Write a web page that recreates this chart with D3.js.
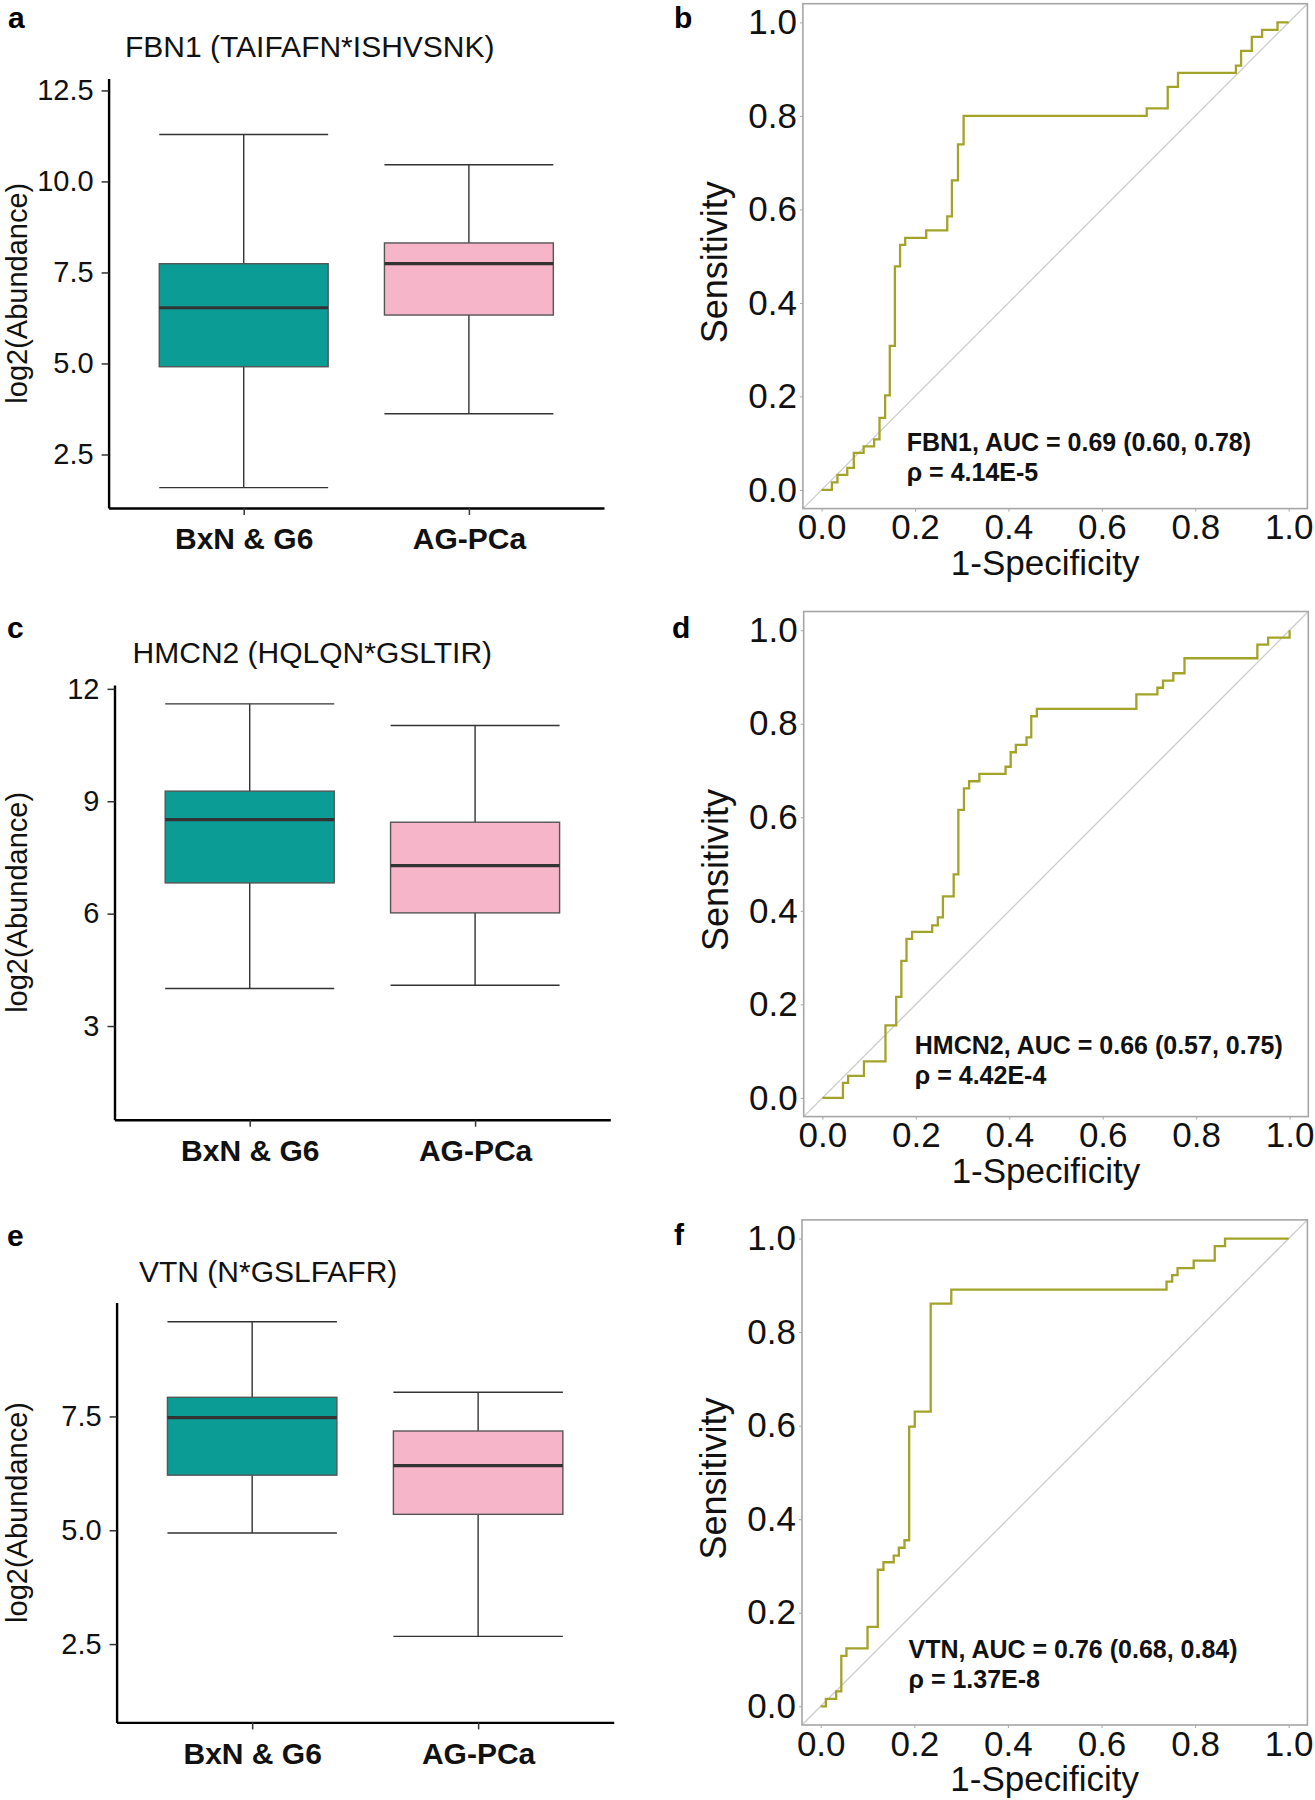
<!DOCTYPE html>
<html><head><meta charset="utf-8">
<script src="https://cdn.jsdelivr.net/npm/d3@7"></script>
<style>
body{margin:0;background:#fff;}
svg{display:block;font-family:"Liberation Sans", Arial, Helvetica, sans-serif;}
</style>
</head><body>
<svg id="chart" width="1315" height="1800"></svg>
<script>
// ---------------- DATA ----------------
const groupCategories = ["BxN & G6", "AG-PCa"];
const groupColors = ["#0b9c96", "#f7b5ca"];

// box stats: [lower whisker, Q1, median, Q3, upper whisker]
const fbn1Box = [[1.59, 4.91, 6.53, 7.74, 11.29], [3.62, 6.33, 7.74, 8.31, 10.46]];
const hmcn2Box = [[4.00, 6.82, 8.51, 9.27, 11.60], [4.09, 6.02, 7.28, 8.44, 11.02]];
const vtnBox = [[4.94, 6.21, 7.475, 7.92, 9.58], [2.67, 5.35, 6.42, 7.18, 8.03]];

const fbn1Ticks = [2.5, 5, 7.5, 10, 12.5];
const hmcn2Ticks = [3, 6, 9, 12];
const vtnTicks = [2.5, 5, 7.5];
const fbn1Domain = [1.03, 12.83];
const hmcn2Domain = [0.5, 12.1];
const vtnDomain = [0.78, 10.0];

const boxTitles = ["FBN1 (TAIFAFN*ISHVSNK)", "HMCN2 (HQLQN*GSLTIR)", "VTN (N*GSLFAFR)"];

// ROC curves: 1-specificity (fpr) and sensitivity (tpr) step vertices
const fbn1Fpr = [0, 0.022, 0.034, 0.055, 0.069, 0.090, 0.1125, 0.124, 0.136, 0.146, 0.157, 0.168, 0.179, 0.224, 0.269, 0.279, 0.292, 0.304, 0.696, 0.741, 0.763, 0.887, 0.898, 0.921, 0.943, 0.976, 1.0];
const fbn1Tpr = [0, 0.016, 0.032, 0.047, 0.079, 0.093, 0.108, 0.154, 0.202, 0.308, 0.478, 0.524, 0.539, 0.555, 0.585, 0.662, 0.739, 0.800, 0.816, 0.862, 0.892, 0.9075, 0.939, 0.969, 0.984, 1.0, 1.0];

const hmcn2Fpr = [0, 0.044, 0.055, 0.089, 0.135, 0.158, 0.169, 0.180, 0.192, 0.235, 0.247, 0.258, 0.281, 0.291, 0.303, 0.314, 0.336, 0.392, 0.403, 0.414, 0.437, 0.447, 0.459, 0.672, 0.717, 0.729, 0.751, 0.775, 0.931, 0.954, 1.0];
const hmcn2Tpr = [0, 0.032, 0.047, 0.078, 0.155, 0.216, 0.293, 0.340, 0.355, 0.369, 0.386, 0.431, 0.478, 0.616, 0.662, 0.677, 0.693, 0.708, 0.739, 0.755, 0.771, 0.816, 0.832, 0.863, 0.877, 0.892, 0.908, 0.940, 0.969, 0.984, 1.0];

const vtnFpr = [0, 0.011, 0.033, 0.044, 0.055, 0.100, 0.122, 0.134, 0.156, 0.167, 0.179, 0.189, 0.201, 0.235, 0.279, 0.739, 0.751, 0.7625, 0.797, 0.842, 0.864, 1.0];
const vtnTpr = [0, 0.016, 0.032, 0.108, 0.124, 0.170, 0.292, 0.308, 0.322, 0.339, 0.355, 0.598, 0.630, 0.861, 0.891, 0.908, 0.922, 0.937, 0.953, 0.984, 1.0, 1.0];

const rocTicks = [0, 0.2, 0.4, 0.6, 0.8, 1.0];
const rocLabels1 = ["FBN1, AUC = 0.69 (0.60, 0.78)", "HMCN2, AUC = 0.66 (0.57, 0.75)", "VTN, AUC = 0.76 (0.68, 0.84)"];
const rocLabels2 = ["\u03C1 = 4.14E-5", "\u03C1 = 4.42E-4", "\u03C1 = 1.37E-8"];
const panelLetters = ["a", "b", "c", "d", "e", "f"];

// ---------------- LAYOUT ----------------
const svg = d3.select("#chart");
const lineColor = "#a3a329";
const FONT = "Liberation Sans, Arial, sans-serif";

function drawBox(cfg) {
  const g = svg.append("g");
  const y = d3.scaleLinear().domain(cfg.domain).range([cfg.b, cfg.t]);
  const x = d3.scalePoint().domain(groupCategories).range([cfg.l, cfg.r]).padding(0.6);
  const bw = x.step() * 0.75;

  const ya = g.append("g").attr("transform", `translate(${cfg.l},0)`)
    .call(d3.axisLeft(y).tickValues(cfg.ticks).tickFormat(cfg.fmt).tickSize(7).tickPadding(8).tickSizeOuter(0));
  ya.select(".domain").attr("stroke", "#000").attr("stroke-width", 2.4);
  ya.selectAll(".tick line").attr("stroke", "#333").attr("stroke-width", 1.5);
  ya.selectAll(".tick text").attr("font-size", 29).attr("fill", "#111").attr("font-family", FONT);

  const xa = g.append("g").attr("transform", `translate(0,${cfg.b})`)
    .call(d3.axisBottom(x).tickSize(7).tickPadding(13).tickSizeOuter(0));
  xa.select(".domain").attr("stroke", "#000").attr("stroke-width", 2.4);
  xa.selectAll(".tick line").attr("stroke", "#333").attr("stroke-width", 1.5);
  xa.selectAll(".tick text").attr("font-size", 30).attr("font-weight", "bold").attr("fill", "#111").attr("font-family", FONT);

  cfg.stats.forEach((s, i) => {
    const cx = x(groupCategories[i]);
    const bg = g.append("g");
    bg.append("line").attr("x1", cx).attr("x2", cx).attr("y1", y(s[0])).attr("y2", y(s[1]))
      .attr("stroke", "#333").attr("stroke-width", 1.4);
    bg.append("line").attr("x1", cx).attr("x2", cx).attr("y1", y(s[3])).attr("y2", y(s[4]))
      .attr("stroke", "#333").attr("stroke-width", 1.4);
    [s[0], s[4]].forEach(v => {
      bg.append("line").attr("x1", cx - bw / 2).attr("x2", cx + bw / 2).attr("y1", y(v)).attr("y2", y(v))
        .attr("stroke", "#333").attr("stroke-width", 1.4);
    });
    bg.append("rect").attr("x", cx - bw / 2).attr("width", bw).attr("y", y(s[3])).attr("height", y(s[1]) - y(s[3]))
      .attr("fill", groupColors[i]).attr("stroke", "#555").attr("stroke-width", 1.4);
    bg.append("line").attr("x1", cx - bw / 2).attr("x2", cx + bw / 2).attr("y1", y(s[2])).attr("y2", y(s[2]))
      .attr("stroke", "#333").attr("stroke-width", 3.2);
  });

  g.append("text").attr("x", cfg.titleX).attr("y", cfg.titleY).attr("font-size", 30).attr("fill", "#111").text(cfg.title);
  g.append("text").attr("transform", `translate(${cfg.ytX},${(cfg.t + cfg.b) / 2}) rotate(-90)`)
    .attr("text-anchor", "middle").attr("font-size", 29).attr("fill", "#111").text("log2(Abundance)");
  g.append("text").attr("x", cfg.letterX).attr("y", cfg.letterY).attr("font-size", 30).attr("font-weight", "bold").attr("fill", "#000").text(cfg.letter);
}

function drawRoc(cfg) {
  const g = svg.append("g");
  const x = d3.scaleLinear().domain([-0.04, 1.04]).range([cfg.l, cfg.r]);
  const y = d3.scaleLinear().domain([-0.04, 1.04]).range([cfg.b, cfg.t]);
  const clipId = "clip" + cfg.letter;
  g.append("clipPath").attr("id", clipId).append("rect")
    .attr("x", cfg.l).attr("y", cfg.t).attr("width", cfg.r - cfg.l).attr("height", cfg.b - cfg.t);

  g.append("line").attr("clip-path", `url(#${clipId})`)
    .attr("x1", x(-0.04)).attr("y1", y(-0.04)).attr("x2", x(1.04)).attr("y2", y(1.04))
    .attr("stroke", "#cccccc").attr("stroke-width", 1.3);

  const pts = cfg.fpr.map((f, i) => [f, cfg.tpr[i]]);
  g.append("path").datum(pts).attr("clip-path", `url(#${clipId})`)
    .attr("d", d3.line().x(d => x(d[0])).y(d => y(d[1])).curve(d3.curveStepAfter))
    .attr("fill", "none").attr("stroke", lineColor).attr("stroke-width", 2.3);

  g.append("rect").attr("x", cfg.l).attr("y", cfg.t).attr("width", cfg.r - cfg.l).attr("height", cfg.b - cfg.t)
    .attr("fill", "none").attr("stroke", "#a6a6a6").attr("stroke-width", 1.6);

  const fmt = d3.format(".1f");
  const ya = g.append("g").attr("transform", `translate(${cfg.l},0)`)
    .call(d3.axisLeft(y).tickValues(rocTicks).tickFormat(fmt).tickSize(3).tickPadding(3).tickSizeOuter(0));
  ya.select(".domain").remove();
  ya.selectAll(".tick line").attr("stroke", "#a6a6a6");
  ya.selectAll(".tick text").attr("font-size", 35).attr("fill", "#111").attr("font-family", FONT);

  const xa = g.append("g").attr("transform", `translate(0,${cfg.b})`)
    .call(d3.axisBottom(x).tickValues(rocTicks).tickFormat(fmt).tickSize(3).tickPadding(3).tickSizeOuter(0));
  xa.select(".domain").remove();
  xa.selectAll(".tick line").attr("stroke", "#a6a6a6");
  xa.selectAll(".tick text").attr("font-size", 35).attr("fill", "#111").attr("font-family", FONT);

  g.append("text").attr("x", (cfg.l + cfg.r) / 2 - 10).attr("y", cfg.b + 66).attr("text-anchor", "middle")
    .attr("font-size", 35).attr("fill", "#111").text("1-Specificity");
  g.append("text").attr("transform", `translate(${cfg.l - 76},${(cfg.t + cfg.b) / 2 + 6}) rotate(-90)`)
    .attr("text-anchor", "middle").attr("font-size", 36).attr("fill", "#111").text("Sensitivity");

  g.append("text").attr("x", cfg.annX).attr("y", cfg.annY).attr("font-size", 25).attr("font-weight", "bold").attr("fill", "#111").text(cfg.ann1);
  g.append("text").attr("x", cfg.annX).attr("y", cfg.annY + 30).attr("font-size", 25).attr("font-weight", "bold").attr("fill", "#111").text(cfg.ann2);

  g.append("text").attr("x", cfg.letterX).attr("y", cfg.letterY).attr("font-size", 30).attr("font-weight", "bold").attr("fill", "#000").text(cfg.letter);
}

const f1 = d3.format(".1f");
const f0 = d3.format("d");

drawBox({stats: fbn1Box, domain: fbn1Domain, ticks: fbn1Ticks, fmt: f1, l: 108.6, r: 604, t: 78.4, b: 508, ytX: 27,
  title: boxTitles[0], titleX: 125, titleY: 57, letter: panelLetters[0], letterX: 8, letterY: 28});
drawBox({stats: hmcn2Box, domain: hmcn2Domain, ticks: hmcn2Ticks, fmt: f0, l: 114.5, r: 610.3, t: 685.1, b: 1119.7, ytX: 27,
  title: boxTitles[1], titleX: 132.6, titleY: 663, letter: panelLetters[2], letterX: 7, letterY: 638});
drawBox({stats: vtnBox, domain: vtnDomain, ticks: vtnTicks, fmt: f1, l: 116.6, r: 613.7, t: 1302.6, b: 1722.4, ytX: 27,
  title: boxTitles[2], titleX: 139, titleY: 1282, letter: panelLetters[4], letterX: 7, letterY: 1246});

drawRoc({fpr: fbn1Fpr, tpr: fbn1Tpr, l: 802.9, r: 1307.4, t: 3.7, b: 508.6,
  ann1: rocLabels1[0], ann2: rocLabels2[0], annX: 906.7, annY: 450.5, letter: panelLetters[1], letterX: 674, letterY: 28});
drawRoc({fpr: hmcn2Fpr, tpr: hmcn2Tpr, l: 803.7, r: 1308.3, t: 611.5, b: 1116.6,
  ann1: rocLabels1[1], ann2: rocLabels2[1], annX: 914.8, annY: 1053.5, letter: panelLetters[3], letterX: 672, letterY: 638});
drawRoc({fpr: vtnFpr, tpr: vtnTpr, l: 802, r: 1307.4, t: 1219.9, b: 1725,
  ann1: rocLabels1[2], ann2: rocLabels2[2], annX: 908.5, annY: 1658, letter: panelLetters[5], letterX: 674, letterY: 1245});
</script>
</body></html>
